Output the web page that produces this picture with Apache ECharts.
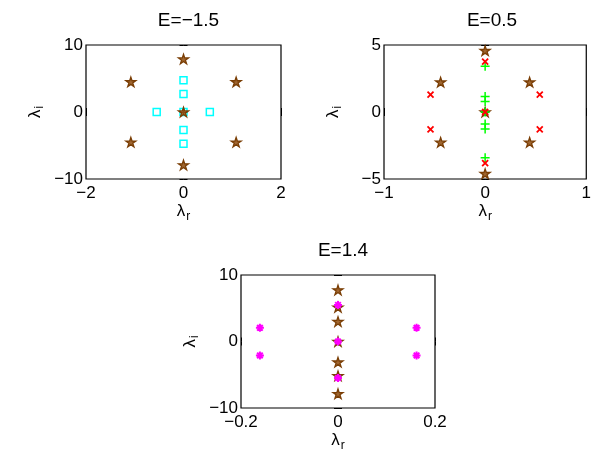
<!DOCTYPE html>
<html><head><meta charset="utf-8">
<script src="https://cdn.jsdelivr.net/npm/echarts@6/dist/echarts.min.js"></script>
<style>html,body{margin:0;padding:0;background:#fff}#c{width:594px;height:457px}</style>
</head><body><div id="c"></div>
<script>
// ---- Data ----
const titles = ['E=\u22121.5', 'E=0.5', 'E=1.4'];
// Plot 1 (E=-1.5)
const p1Stars = [[0,7.9],[-1.08,4.5],[1.08,4.5],[0,0],[-1.08,-4.5],[1.08,-4.5],[0,-7.9]];
const p1Squares = [[0,4.75],[0,2.7],[0,0],[0,-2.7],[0,-4.75],[-0.55,0],[0.54,0]];
// Plot 2 (E=0.5)
const p2Stars = [[0,4.58],[-0.44,2.23],[0.44,2.23],[0,0],[-0.44,-2.26],[0.44,-2.26],[0,-4.6]];
const p2Cross = [[0,3.76],[-0.54,1.29],[0.54,1.29],[0,0],[-0.54,-1.29],[0.54,-1.29],[0,-3.82]];
const p2Plus = [[0,3.42],[0,1.16],[0,0.79],[0,0],[0,-0.89],[0,-1.26],[0,-3.42]];
// Plot 3 (E=1.4)
const p3Stars = [[0,7.75],[0,5.16],[0,3.0],[0,0],[0,-3.1],[0,-5.15],[0,-7.85]];
const p3Ast = [[0,5.5],[0,0],[0,-5.5],[-0.161,2.05],[-0.161,-2.1],[0.162,2.05],[0.162,-2.1]];
// Axis ranges / ticks
const xRanges = [[-2,2,2],[-1,1,1],[-0.2,0.2,0.2]];
const yRanges = [[-10,10,10],[-5,5,5],[-10,10,10]];

// ---- Chart ----
const STAR = 'path://M10,0 L12.245,6.91 L19.511,6.91 L13.633,11.18 L15.878,18.09 L10,13.82 L4.122,18.09 L6.367,11.18 L0.489,6.91 L7.755,6.91 Z';
const XMARK = 'path://M0,0 L10,10 M10,0 L0,10';
const PLUS = 'path://M5,0 L5,10 M0,5 L10,5';
const AST = 'path://M5,0 L5,10 M0,5 L10,5 M1.5,1.5 L8.5,8.5 M8.5,1.5 L1.5,8.5';
const BROWN = '#7a3e05';
const FONT = 'Liberation Sans';
const FS = 17;
const fmt = v => { let r = Math.round(v*1000)/1000; if (r===0) return '0'; return (r<0?'\u2212':'') + Math.abs(r); };

const grids = [
  {left:86, top:45, width:195, height:134},
  {left:384, top:45, width:206, height:134},
  {left:241, top:275, width:194, height:133}
];
const xAxis = [], yAxis = [];
grids.forEach((g,i)=>{
  const [xmin,xmax,xi] = xRanges[i], [ymin,ymax,yi] = yRanges[i];
  const common = {
    splitLine:{show:false},
    axisLine:{show:false},
    axisTick:{show:true, inside:true, length:4, lineStyle:{color:'#000'}},
  };
  xAxis.push(Object.assign({gridIndex:i, type:'value', min:xmin, max:xmax, interval:xi, position:'bottom',
    axisLabel:{formatter:fmt, color:'#000', fontFamily:FONT, fontSize:FS, margin:6},
    name:'{a|\u03bb}{b|r}', nameLocation:'middle', nameGap:21,
    nameTextStyle:{rich:{a:{fontSize:FS, fontFamily:FONT, color:'#000'}, b:{fontSize:12, fontFamily:FONT, color:'#000', padding:[10,0,0,1]}}}
  }, common));
  xAxis.push(Object.assign({gridIndex:i, type:'value', min:xmin, max:xmax, interval:xi, position:'top',
    axisLabel:{show:false}}, common));
  yAxis.push(Object.assign({gridIndex:i, type:'value', min:ymin, max:ymax, interval:yi, position:'left',
    axisLabel:{formatter:fmt, color:'#000', fontFamily:FONT, fontSize:FS, margin:3},
    name:'{a|\u03bb}{b|i}', nameLocation:'middle', nameGap:40, nameRotate:90,
    nameTextStyle:{rich:{a:{fontSize:FS, fontFamily:FONT, color:'#000'}, b:{fontSize:12, fontFamily:FONT, color:'#000', padding:[10,0,0,1]}}}
  }, common));
  yAxis.push(Object.assign({gridIndex:i, type:'value', min:ymin, max:ymax, interval:yi, position:'right',
    axisLabel:{show:false}}, common));
});
grids.forEach(g=>{g.show=true; g.borderColor='#000'; g.borderWidth=1.2; g.backgroundColor='#fff'; g.containLabel=false;});

function sc(i, data, symbol, size, color, opts){
  opts = opts || {};
  return {type:'scatter', xAxisIndex:2*i, yAxisIndex:2*i, data, symbol, symbolSize:size, symbolKeepAspect:!!opts.keep,
    silent:true, animation:false,
    itemStyle:{color:opts.fill||'none', borderColor:color, borderWidth:opts.bw||1.5, opacity:1}};
}
const STARFILL = 'rgba(150,85,25,0.9)';
const series = [
  sc(0, p1Squares, 'rect', 7, '#00ffff'),
  sc(0, p1Stars, STAR, 10, BROWN, {keep:true, fill:STARFILL, bw:1.3}),
  sc(1, p2Stars, STAR, 10, BROWN, {keep:true, fill:STARFILL, bw:1.3}),
  sc(1, p2Plus, PLUS, 9, '#00ff00'),
  sc(1, p2Cross, XMARK, 6, '#ff0000', {bw:1.8}),
  sc(2, p3Stars, STAR, 10, BROWN, {keep:true, fill:STARFILL, bw:1.3}),
  sc(2, p3Ast, AST, 8, '#ff00ff', {bw:2}),
];
const title = grids.map((g,i)=>({text:titles[i], left:g.left+g.width/2, top:g.top-39, textAlign:'center',
  textStyle:{fontFamily:FONT, fontSize:19, fontWeight:'normal', color:'#000'}}));

const chart = echarts.init(document.getElementById('c'), null, {renderer:'canvas'});
chart.setOption({animation:false, backgroundColor:'#fff', title, grid:grids, xAxis, yAxis, series});
</script></body></html>
